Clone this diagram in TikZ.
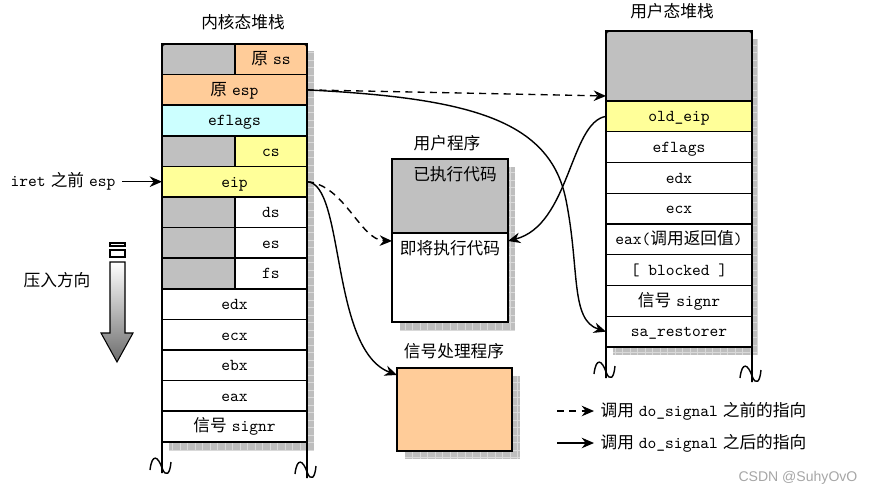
\documentclass[tikz,border=0pt]{standalone}
\usepackage{fontspec}
\newfontfamily\cjk{Noto Sans CJK SC}
\newfontfamily\wmfont{Liberation Sans}
\usetikzlibrary{arrows.meta,positioning}
\definecolor{peach}{HTML}{FFCC99}
\definecolor{paleblue}{HTML}{CCFFFF}
\definecolor{paleyellow}{HTML}{FFFF99}
\definecolor{slotgray}{HTML}{C0C0C0}
\definecolor{shadowgray}{HTML}{BEBEBE}
\newcommand\cjkgap{\hspace{0.3em}}

\begin{document}
\begin{tikzpicture}[x=0.02cm, y=-0.02cm, line width=0.8pt,
    font=\ttfamily\fontsize{9.5pt}{11pt}\selectfont,
    cell/.style={draw, inner sep=0pt, outer sep=0pt, anchor=north west, minimum height=0.612cm,
      text height=1.6ex, text depth=0.2ex},
    wide/.style={cell, minimum width=2.9cm},
    gap/.style={cell, minimum width=1.46cm, fill=slotgray},
    half/.style={cell, minimum width=1.44cm},
    urow/.style={cell, minimum width=2.92cm, minimum height=0.615cm},
    box/.style={draw, inner sep=0pt, outer sep=0pt, anchor=north west},
    shade/.style={fill=shadowgray},
    gridline/.style={draw=gray!30, line width=0.2pt, step=0.15cm},
    title/.style={font=\cjk\fontsize{9.5pt}{11pt}\selectfont},
    after/.style={-{Stealth[length=7pt,width=6pt]}},
    before/.style={after, dash pattern=on 4pt off 3pt},
    brk/.pic={\draw[line width=0.8pt] (-12,2) .. controls (-10,-15) and (-4,-12) .. (0,0) .. controls (4,10) and (8,6) .. (9,-6);}
  ]
  \useasboundingbox (0,0) rectangle (877,494);

  % Kernel stack
  \fill[shade] (169,51) rectangle (314,450);
  \draw[gridline] (169,450) grid (314,51);
  \node[gap] (ssgap) at (162,44) {};
  \node[half, fill=peach] (ss) at (235,44) {{\cjk 原}\cjkgap ss};
  \node[wide, fill=peach] (oldesp) at (162,74.6) {{\cjk 原}\cjkgap esp};
  \node[wide, fill=paleblue] (kflags) at (162,105.2) {eflags};
  \node[gap] (csgap) at (162,135.8) {};
  \node[half, fill=paleyellow] (cs) at (235,135.8) {cs};
  \node[wide, fill=paleyellow] (eip) at (162,166.4) {eip};
  \foreach \name/\txt [count=\i from 5] in {ds/ds, es/es, fs/fs} {
    \node[gap] (\name gap) at (162,{44+30.6*\i}) {};
    \node[half, fill=white] (\name) at (235,{44+30.6*\i}) {\txt};
  }
  \foreach \name/\txt [count=\i from 8] in {kedx/edx, kecx/ecx, kebx/ebx, keax/eax, ksignr/{{\cjk 信号}\cjkgap signr}}
    \node[wide, fill=white] (\name) at (162,{44+30.6*\i}) {\txt};
  \draw[line width=1.1pt, rounded corners=1.5pt] (162,473) -- (162,44) -- (307,44) -- (307,478);
  \pic at (162,468) {brk};
  \pic at (307,472) {brk};
  \node[title] (ktitle) at (243,22) {内核态堆栈};

  % User stack
  \fill[shade] (613,39) rectangle (758,355);
  \draw[gridline] (613,355) grid (758,39);
  \node[cell, minimum width=2.92cm, minimum height=1.4cm, fill=slotgray] (ugray) at (606,31) {};
  \foreach \name/\txt/\col [count=\i from 0] in {oldeip/old\_eip/paleyellow, uflags/eflags/white,
      uedx/edx/white, uecx/ecx/white, ueax/{eax({\cjk 调用返回值})}/white, blocked/{[ blocked ]}/white,
      usignr/{{\cjk 信号}\cjkgap signr}/white, restorer/sa\_restorer/white}
    \node[urow, fill=\col] (\name) at (606,{101+30.75*\i}) {\txt};
  \draw[line width=1.1pt, rounded corners=1.5pt] (606,378) -- (606,31) -- (752,31) -- (752,382);
  \pic at (606,372) {brk};
  \pic at (752,376) {brk};
  \node[title] (utitle) at (672,11) {用户态堆栈};

  % User program
  \fill[shade] (400,167) rectangle (515,330);
  \draw[gridline] (400,330) grid (515,167);
  \node[box, minimum width=2.32cm, minimum height=1.48cm, fill=slotgray] (done) at (392,159) {};
  \node[box, minimum width=2.32cm, minimum height=1.78cm, fill=white] (next) at (392,233) {};
  \node[title] (donetxt) at (455,174) {已执行代码};
  \node[title] (nexttxt) at (450,248) {即将执行代码};
  \node[title] (ptitle) at (447,143) {用户程序};

  % Signal handler
  \fill[shade] (405,376) rectangle (520,459);
  \draw[gridline] (405,459) grid (520,376);
  \node[box, minimum width=2.3cm, minimum height=1.66cm, fill=peach] (handler) at (397,368) {};
  \node[title] (htitle) at (454,351) {信号处理程序};

  % Left notes
  \node[anchor=east] (iret) at (122,181.7) {iret\cjkgap{\cjk 之前}\cjkgap esp};
  \draw[after] (iret.east) -- (iret.east -| eip.west);
  \node[title] (push) at (57,280) {压入方向};
  \draw[fill=white, line width=0.6pt] (110,243) rectangle (125,246);
  \draw[fill=white, line width=0.6pt] (110,250) rectangle (125,257);
  \shadedraw[top color=white, bottom color=gray!85!black, line width=0.6pt]
    (110,262) -- (125,262) -- (125,333) -- (133,333) -- (117,362) -- (101,333) -- (110,333) -- cycle;

  % Pointers
  \draw[before] (oldesp.east) -- ([yshift=0.1cm]ugray.south west);
  \draw[after] (oldesp.east) .. controls (470,98) and (550,120) .. (566,200)
    .. controls (580,270) and (570,320) .. (restorer.west);
  \draw[before] (eip.east) .. controls (345,185) and (360,240) .. ([yshift=-0.16cm]next.north west);
  \draw[after] (eip.east) .. controls (345,183) and (330,350) .. ([yshift=-0.14cm]handler.north west);
  \draw[after] (oldeip.west) .. controls (570,122) and (570,225) .. ([yshift=-0.16cm]next.north east);

  % Legend
  \node[anchor=west] (legbefore) at (594,411) {{\cjk 调用}\cjkgap do\_signal\cjkgap{\cjk 之前的指向}};
  \node[anchor=west] (legafter) at (594,443) {{\cjk 调用}\cjkgap do\_signal\cjkgap{\cjk 之后的指向}};
  \coordinate (lb) at (557,411);
  \coordinate (la) at (557,443);
  \draw[before] (lb) -- (legbefore.west);
  \draw[after] (la) -- (legafter.west);
  \node[font=\wmfont\fontsize{8pt}{9pt}\selectfont, text=gray!70, anchor=east] (mark) at (864,478) {CSDN @SuhyOvO};
\end{tikzpicture}
\end{document}
